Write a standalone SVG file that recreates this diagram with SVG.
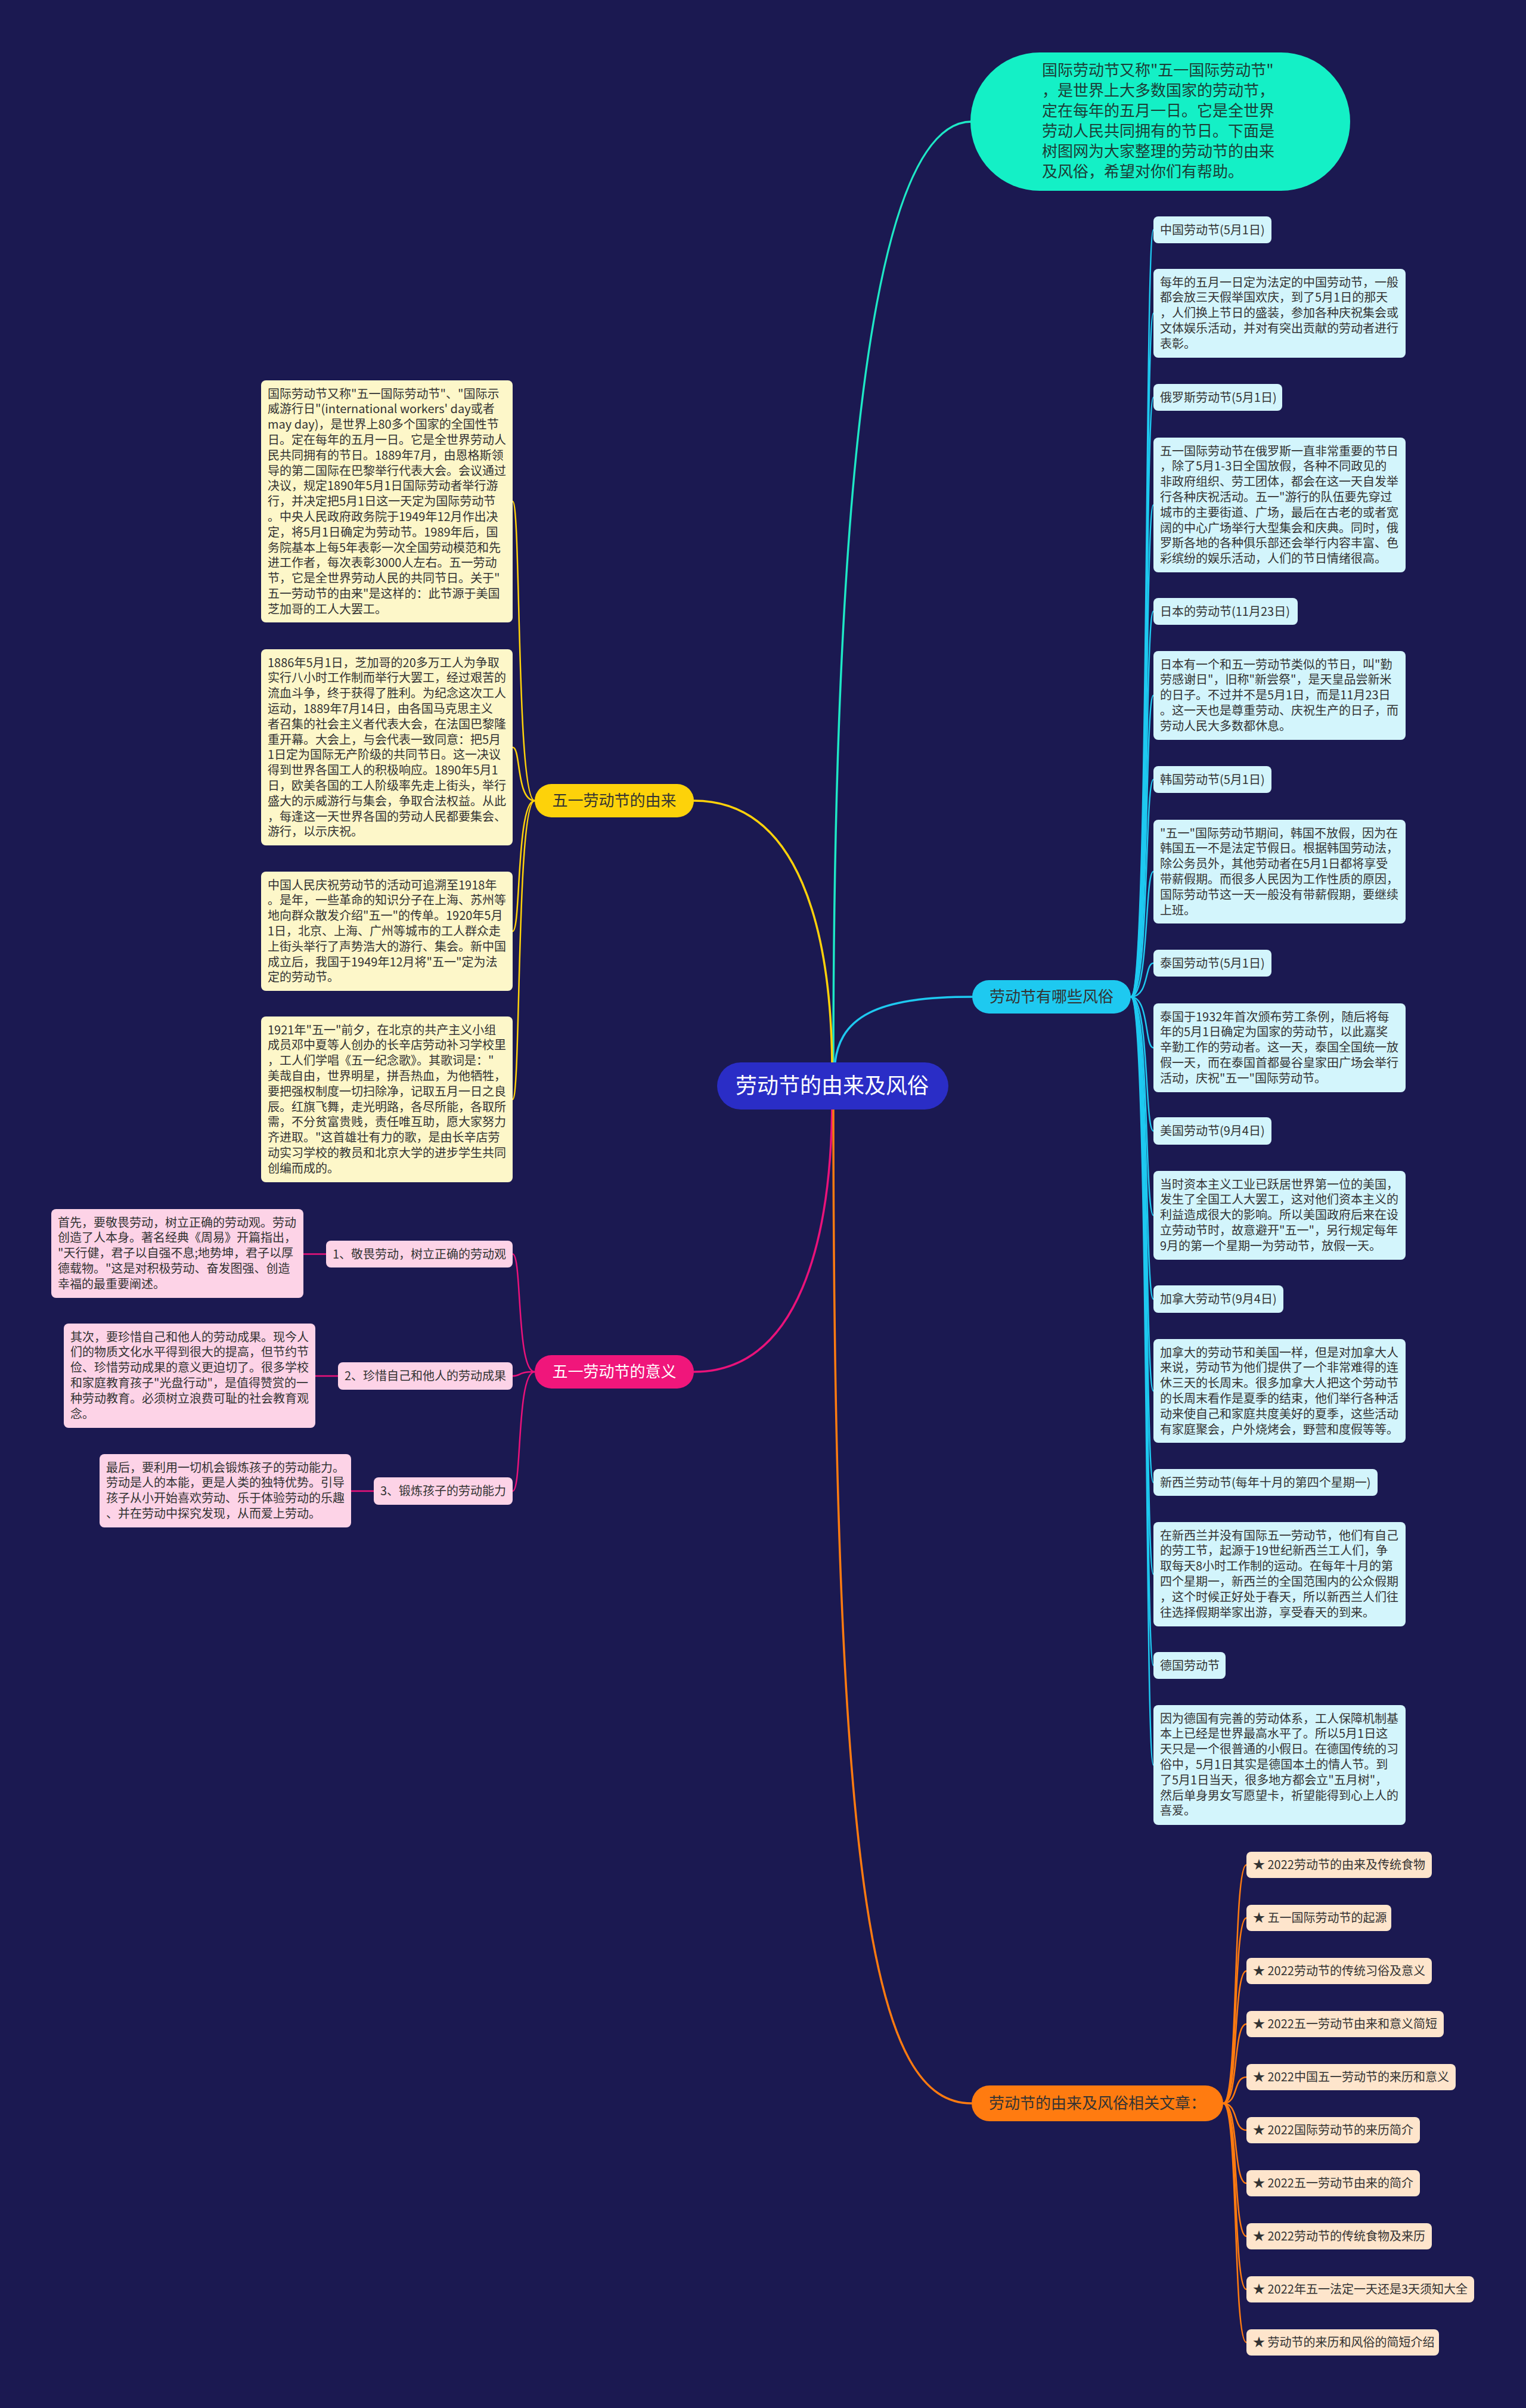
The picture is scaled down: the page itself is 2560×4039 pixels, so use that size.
<svg xmlns="http://www.w3.org/2000/svg" width="2560" height="4039" viewBox="0 0 2560 4039">
<style>
text{font-family:"Noto Sans CJK SC","Noto Sans",sans-serif}
.t20{font-size:20px;fill:#333}
.t26{font-size:26px}
.cy{fill:#d3f5fc}
.ye{fill:#fdf7c9}
.pk{fill:#fdd3e7}
.or{fill:#fee5cc}
.ln{fill:none;stroke-linecap:round}
.lc{stroke:#1ec9f0;stroke-width:2.5}
.ly{stroke:#ffd20a;stroke-width:2.5}
.lm{stroke:#ea127a;stroke-width:2.5}
.lo{stroke:#ff7b10;stroke-width:2.5}
</style>
<rect x="0" y="0" width="2560" height="4039" fill="#1b1951"/>

<g id="connectors">
<path class="ln" d="M1398,1790 C1398,700 1480,204 1630,204" stroke="#1ee8c6" stroke-width="3.5"/>
<path class="ln" d="M1396,1800 C1396,1560 1340,1343 1164,1343" stroke="#ffd20a" stroke-width="3.5"/>
<path class="ln" d="M1396,1840 C1396,2080 1340,2301 1164,2301" stroke="#ea127a" stroke-width="3.5"/>
<path class="ln" d="M1400,1800 C1400,1700 1480,1672 1631,1672" stroke="#1ec9f0" stroke-width="3.5"/>
<path class="ln" d="M1398,1840 C1398,3200 1470,3528 1630,3528" stroke="#ff7b10" stroke-width="3.5"/>

<g class="ln lc">
<path d="M1897,1672 C1928,1672 1920,385.5 1935,385.5"/>
<path d="M1897,1672 C1928,1672 1920,525.5 1935,525.5"/>
<path d="M1897,1672 C1928,1672 1920,666.5 1935,666.5"/>
<path d="M1897,1672 C1928,1672 1920,847 1935,847"/>
<path d="M1897,1672 C1928,1672 1920,1025.5 1935,1025.5"/>
<path d="M1897,1672 C1928,1672 1920,1166.5 1935,1166.5"/>
<path d="M1897,1672 C1928,1672 1920,1307.5 1935,1307.5"/>
<path d="M1897,1672 C1928,1672 1920,1462 1935,1462"/>
<path d="M1897,1672 C1928,1672 1920,1615.5 1935,1615.5"/>
<path d="M1897,1672 C1928,1672 1920,1757.5 1935,1757.5"/>
<path d="M1897,1672 C1928,1672 1920,1897 1935,1897"/>
<path d="M1897,1672 C1928,1672 1920,2038.5 1935,2038.5"/>
<path d="M1897,1672 C1928,1672 1920,2179 1935,2179"/>
<path d="M1897,1672 C1928,1672 1920,2333 1935,2333"/>
<path d="M1897,1672 C1928,1672 1920,2486.5 1935,2486.5"/>
<path d="M1897,1672 C1928,1672 1920,2640.5 1935,2640.5"/>
<path d="M1897,1672 C1928,1672 1920,2793.5 1935,2793.5"/>
<path d="M1897,1672 C1928,1672 1920,2960.5 1935,2960.5"/>
</g>
<g class="ln ly">
<path d="M897,1343 C866,1343 874,841 860,841"/>
<path d="M897,1343 C866,1343 874,1253.5 860,1253.5"/>
<path d="M897,1343 C866,1343 874,1562 860,1562"/>
<path d="M897,1343 C866,1343 874,1844 860,1844"/>
</g>
<g class="ln lm">
<path d="M897,2301 C866,2301 876,2103.5 860,2103.5"/>
<path d="M897,2301 C866,2301 876,2308 860,2308"/>
<path d="M897,2301 C866,2301 876,2501 860,2501"/>
<path d="M547,2103.5 L509,2103.5"/>
<path d="M567,2308 L529,2308"/>
<path d="M627,2501 L589,2501"/>
</g>
<g class="ln lo">
<path d="M2052,3528 C2078,3528 2068,3128 2091,3128"/>
<path d="M2052,3528 C2078,3528 2068,3217 2091,3217"/>
<path d="M2052,3528 C2078,3528 2068,3306 2091,3306"/>
<path d="M2052,3528 C2078,3528 2068,3395 2091,3395"/>
<path d="M2052,3528 C2078,3528 2068,3484 2091,3484"/>
<path d="M2052,3528 C2078,3528 2068,3573 2091,3573"/>
<path d="M2052,3528 C2078,3528 2068,3662 2091,3662"/>
<path d="M2052,3528 C2078,3528 2068,3751 2091,3751"/>
<path d="M2052,3528 C2078,3528 2068,3840 2091,3840"/>
<path d="M2052,3528 C2078,3528 2068,3929 2091,3929"/>
</g>
</g>

<g id="root">
<rect x="1203" y="1782" width="388" height="79" rx="39.5" fill="#2a2dc6"/>
<text x="1396" y="1834" font-size="36" fill="#fff" text-anchor="middle">劳动节的由来及风俗</text>
</g>

<g id="intro">
<rect x="1628" y="88" width="637" height="232" rx="116" fill="#14f0c6"/>
<text class="t26" fill="#1c3d36">
<tspan x="1748" y="127">国际劳动节又称"五一国际劳动节"</tspan>
<tspan x="1748" y="161">，是世界上大多数国家的劳动节，</tspan>
<tspan x="1748" y="195">定在每年的五月一日。它是全世界</tspan>
<tspan x="1748" y="229">劳动人民共同拥有的节日。下面是</tspan>
<tspan x="1748" y="263">树图网为大家整理的劳动节的由来</tspan>
<tspan x="1748" y="297">及风俗，希望对你们有帮助。</tspan>
</text>
</g>

<g id="branch-origin">
<rect x="897" y="1315" width="267" height="56" rx="28" fill="#fdd20a"/>
<text class="t26" x="1030.5" y="1352" fill="#333" text-anchor="middle">五一劳动节的由来</text>
</g>
<g id="branch-meaning">
<rect x="897" y="2273" width="267" height="56" rx="28" fill="#f0167b"/>
<text class="t26" x="1030.5" y="2310" fill="#fff" text-anchor="middle">五一劳动节的意义</text>
</g>
<g id="branch-customs">
<rect x="1631" y="1644" width="266" height="56" rx="28" fill="#1ec9f0"/>
<text class="t26" x="1764" y="1681" fill="#333" text-anchor="middle">劳动节有哪些风俗</text>
</g>
<g id="branch-articles">
<rect x="1630" y="3498" width="422" height="60" rx="30" fill="#ff7b10"/>
<text class="t26" x="1841" y="3537" fill="#333" text-anchor="middle">劳动节的由来及风俗相关文章：</text>
</g>

<g id="c1"><rect class="cy" x="1935" y="363" width="198" height="45" rx="8"/><text class="t20" x="1946" y="392.5">中国劳动节(5月1日)</text></g>
<g id="c2"><rect class="cy" x="1935" y="451" width="423" height="149" rx="8"/>
<text class="t20"><tspan x="1946" y="480.5">每年的五月一日定为法定的中国劳动节，一般</tspan><tspan x="1946" dy="25.8">都会放三天假举国欢庆，到了5月1日的那天</tspan><tspan x="1946" dy="25.8">，人们换上节日的盛装，参加各种庆祝集会或</tspan><tspan x="1946" dy="25.8">文体娱乐活动，并对有突出贡献的劳动者进行</tspan><tspan x="1946" dy="25.8">表彰。</tspan></text></g>
<g id="c3"><rect class="cy" x="1935" y="644" width="216" height="45" rx="8"/><text class="t20" x="1946" y="673.5">俄罗斯劳动节(5月1日)</text></g>
<g id="c4"><rect class="cy" x="1935" y="734" width="423" height="226" rx="8"/>
<text class="t20"><tspan x="1946" y="763.5">五一国际劳动节在俄罗斯一直非常重要的节日</tspan><tspan x="1946" dy="25.8">，除了5月1-3日全国放假，各种不同政见的</tspan><tspan x="1946" dy="25.8">非政府组织、劳工团体，都会在这一天自发举</tspan><tspan x="1946" dy="25.8">行各种庆祝活动。五一"游行的队伍要先穿过</tspan><tspan x="1946" dy="25.8">城市的主要街道、广场，最后在古老的或者宽</tspan><tspan x="1946" dy="25.8">阔的中心广场举行大型集会和庆典。同时，俄</tspan><tspan x="1946" dy="25.8">罗斯各地的各种俱乐部还会举行内容丰富、色</tspan><tspan x="1946" dy="25.8">彩缤纷的娱乐活动，人们的节日情绪很高。</tspan></text></g>
<g id="c5"><rect class="cy" x="1935" y="1003" width="242" height="45" rx="8"/><text class="t20" x="1946" y="1032.5">日本的劳动节(11月23日)</text></g>
<g id="c6"><rect class="cy" x="1935" y="1092" width="423" height="149" rx="8"/>
<text class="t20"><tspan x="1946" y="1121.5">日本有一个和五一劳动节类似的节日，叫"勤</tspan><tspan x="1946" dy="25.8">劳感谢日"，旧称"新尝祭"，是天皇品尝新米</tspan><tspan x="1946" dy="25.8">的日子。不过并不是5月1日，而是11月23日</tspan><tspan x="1946" dy="25.8">。这一天也是尊重劳动、庆祝生产的日子，而</tspan><tspan x="1946" dy="25.8">劳动人民大多数都休息。</tspan></text></g>
<g id="c7"><rect class="cy" x="1935" y="1285" width="198" height="45" rx="8"/><text class="t20" x="1946" y="1314.5">韩国劳动节(5月1日)</text></g>
<g id="c8"><rect class="cy" x="1935" y="1375" width="423" height="174" rx="8"/>
<text class="t20"><tspan x="1946" y="1404.5">"五一"国际劳动节期间，韩国不放假，因为在</tspan><tspan x="1946" dy="25.8">韩国五一不是法定节假日。根据韩国劳动法，</tspan><tspan x="1946" dy="25.8">除公务员外，其他劳动者在5月1日都将享受</tspan><tspan x="1946" dy="25.8">带薪假期。而很多人民因为工作性质的原因，</tspan><tspan x="1946" dy="25.8">国际劳动节这一天一般没有带薪假期，要继续</tspan><tspan x="1946" dy="25.8">上班。</tspan></text></g>
<g id="c9"><rect class="cy" x="1935" y="1593" width="198" height="45" rx="8"/><text class="t20" x="1946" y="1622.5">泰国劳动节(5月1日)</text></g>
<g id="c10"><rect class="cy" x="1935" y="1683" width="423" height="149" rx="8"/>
<text class="t20"><tspan x="1946" y="1712.5">泰国于1932年首次颁布劳工条例，随后将每</tspan><tspan x="1946" dy="25.8">年的5月1日确定为国家的劳动节，以此嘉奖</tspan><tspan x="1946" dy="25.8">辛勤工作的劳动者。这一天，泰国全国统一放</tspan><tspan x="1946" dy="25.8">假一天，而在泰国首都曼谷皇家田广场会举行</tspan><tspan x="1946" dy="25.8">活动，庆祝"五一"国际劳动节。</tspan></text></g>
<g id="c11"><rect class="cy" x="1935" y="1874" width="198" height="46" rx="8"/><text class="t20" x="1946" y="1904">美国劳动节(9月4日)</text></g>
<g id="c12"><rect class="cy" x="1935" y="1964" width="423" height="149" rx="8"/>
<text class="t20"><tspan x="1946" y="1993.5">当时资本主义工业已跃居世界第一位的美国，</tspan><tspan x="1946" dy="25.8">发生了全国工人大罢工，这对他们资本主义的</tspan><tspan x="1946" dy="25.8">利益造成很大的影响。所以美国政府后来在设</tspan><tspan x="1946" dy="25.8">立劳动节时，故意避开"五一"，另行规定每年</tspan><tspan x="1946" dy="25.8">9月的第一个星期一为劳动节，放假一天。</tspan></text></g>
<g id="c13"><rect class="cy" x="1935" y="2156" width="218" height="46" rx="8"/><text class="t20" x="1946" y="2186">加拿大劳动节(9月4日)</text></g>
<g id="c14"><rect class="cy" x="1935" y="2246" width="423" height="174" rx="8"/>
<text class="t20"><tspan x="1946" y="2275.5">加拿大的劳动节和美国一样，但是对加拿大人</tspan><tspan x="1946" dy="25.8">来说，劳动节为他们提供了一个非常难得的连</tspan><tspan x="1946" dy="25.8">休三天的长周末。很多加拿大人把这个劳动节</tspan><tspan x="1946" dy="25.8">的长周末看作是夏季的结束，他们举行各种活</tspan><tspan x="1946" dy="25.8">动来使自己和家庭共度美好的夏季，这些活动</tspan><tspan x="1946" dy="25.8">有家庭聚会，户外烧烤会，野营和度假等等。</tspan></text></g>
<g id="c15"><rect class="cy" x="1935" y="2464" width="376" height="45" rx="8"/><text class="t20" x="1946" y="2493.5">新西兰劳动节(每年十月的第四个星期一)</text></g>
<g id="c16"><rect class="cy" x="1935" y="2553" width="423" height="175" rx="8"/>
<text class="t20"><tspan x="1946" y="2582.5">在新西兰并没有国际五一劳动节，他们有自己</tspan><tspan x="1946" dy="25.8">的劳工节，起源于19世纪新西兰工人们，争</tspan><tspan x="1946" dy="25.8">取每天8小时工作制的运动。在每年十月的第</tspan><tspan x="1946" dy="25.8">四个星期一，新西兰的全国范围内的公众假期</tspan><tspan x="1946" dy="25.8">，这个时候正好处于春天，所以新西兰人们往</tspan><tspan x="1946" dy="25.8">往选择假期举家出游，享受春天的到来。</tspan></text></g>
<g id="c17"><rect class="cy" x="1935" y="2771" width="121" height="45" rx="8"/><text class="t20" x="1946" y="2800.5">德国劳动节</text></g>
<g id="c18"><rect class="cy" x="1935" y="2860" width="423" height="201" rx="8"/>
<text class="t20"><tspan x="1946" y="2889.5">因为德国有完善的劳动体系，工人保障机制基</tspan><tspan x="1946" dy="25.8">本上已经是世界最高水平了。所以5月1日这</tspan><tspan x="1946" dy="25.8">天只是一个很普通的小假日。在德国传统的习</tspan><tspan x="1946" dy="25.8">俗中，5月1日其实是德国本土的情人节。到</tspan><tspan x="1946" dy="25.8">了5月1日当天，很多地方都会立"五月树"，</tspan><tspan x="1946" dy="25.8">然后单身男女写愿望卡，祈望能得到心上人的</tspan><tspan x="1946" dy="25.8">喜爱。</tspan></text></g>

<g id="l1"><rect class="ye" x="438" y="638" width="422" height="406" rx="8"/>
<text class="t20"><tspan x="449" y="667.5">国际劳动节又称"五一国际劳动节"、"国际示</tspan><tspan x="449" dy="25.8">威游行日"(international workers' day或者</tspan><tspan x="449" dy="25.8">may day)，是世界上80多个国家的全国性节</tspan><tspan x="449" dy="25.8">日。定在每年的五月一日。它是全世界劳动人</tspan><tspan x="449" dy="25.8">民共同拥有的节日。1889年7月，由恩格斯领</tspan><tspan x="449" dy="25.8">导的第二国际在巴黎举行代表大会。会议通过</tspan><tspan x="449" dy="25.8">决议，规定1890年5月1日国际劳动者举行游</tspan><tspan x="449" dy="25.8">行，并决定把5月1日这一天定为国际劳动节</tspan><tspan x="449" dy="25.8">。中央人民政府政务院于1949年12月作出决</tspan><tspan x="449" dy="25.8">定，将5月1日确定为劳动节。1989年后，国</tspan><tspan x="449" dy="25.8">务院基本上每5年表彰一次全国劳动模范和先</tspan><tspan x="449" dy="25.8">进工作者，每次表彰3000人左右。五一劳动</tspan><tspan x="449" dy="25.8">节，它是全世界劳动人民的共同节日。关于"</tspan><tspan x="449" dy="25.8">五一劳动节的由来"是这样的：此节源于美国</tspan><tspan x="449" dy="25.8">芝加哥的工人大罢工。</tspan></text></g>
<g id="l2"><rect class="ye" x="438" y="1089" width="422" height="329" rx="8"/>
<text class="t20"><tspan x="449" y="1118.5">1886年5月1日，芝加哥的20多万工人为争取</tspan><tspan x="449" dy="25.8">实行八小时工作制而举行大罢工，经过艰苦的</tspan><tspan x="449" dy="25.8">流血斗争，终于获得了胜利。为纪念这次工人</tspan><tspan x="449" dy="25.8">运动，1889年7月14日，由各国马克思主义</tspan><tspan x="449" dy="25.8">者召集的社会主义者代表大会，在法国巴黎隆</tspan><tspan x="449" dy="25.8">重开幕。大会上，与会代表一致同意：把5月</tspan><tspan x="449" dy="25.8">1日定为国际无产阶级的共同节日。这一决议</tspan><tspan x="449" dy="25.8">得到世界各国工人的积极响应。1890年5月1</tspan><tspan x="449" dy="25.8">日，欧美各国的工人阶级率先走上街头，举行</tspan><tspan x="449" dy="25.8">盛大的示威游行与集会，争取合法权益。从此</tspan><tspan x="449" dy="25.8">，每逢这一天世界各国的劳动人民都要集会、</tspan><tspan x="449" dy="25.8">游行，以示庆祝。</tspan></text></g>
<g id="l3"><rect class="ye" x="438" y="1462" width="422" height="200" rx="8"/>
<text class="t20"><tspan x="449" y="1491.5">中国人民庆祝劳动节的活动可追溯至1918年</tspan><tspan x="449" dy="25.8">。是年，一些革命的知识分子在上海、苏州等</tspan><tspan x="449" dy="25.8">地向群众散发介绍"五一"的传单。1920年5月</tspan><tspan x="449" dy="25.8">1日，北京、上海、广州等城市的工人群众走</tspan><tspan x="449" dy="25.8">上街头举行了声势浩大的游行、集会。新中国</tspan><tspan x="449" dy="25.8">成立后，我国于1949年12月将"五一"定为法</tspan><tspan x="449" dy="25.8">定的劳动节。</tspan></text></g>
<g id="l4"><rect class="ye" x="438" y="1705" width="422" height="278" rx="8"/>
<text class="t20"><tspan x="449" y="1734.5">1921年"五一"前夕，在北京的共产主义小组</tspan><tspan x="449" dy="25.8">成员邓中夏等人创办的长辛店劳动补习学校里</tspan><tspan x="449" dy="25.8">，工人们学唱《五一纪念歌》。其歌词是："</tspan><tspan x="449" dy="25.8">美哉自由，世界明星，拼吾热血，为他牺牲，</tspan><tspan x="449" dy="25.8">要把强权制度一切扫除净，记取五月一日之良</tspan><tspan x="449" dy="25.8">辰。红旗飞舞，走光明路，各尽所能，各取所</tspan><tspan x="449" dy="25.8">需，不分贫富贵贱，责任唯互助，愿大家努力</tspan><tspan x="449" dy="25.8">齐进取。"这首雄壮有力的歌，是由长辛店劳</tspan><tspan x="449" dy="25.8">动实习学校的教员和北京大学的进步学生共同</tspan><tspan x="449" dy="25.8">创编而成的。</tspan></text></g>

<g id="m1"><rect class="pk" x="547" y="2081" width="313" height="45" rx="8"/><text class="t20" x="558" y="2110.5">1、敬畏劳动，树立正确的劳动观</text></g>
<g id="m1t"><rect class="pk" x="86" y="2028" width="423" height="149" rx="8"/>
<text class="t20"><tspan x="97" y="2057.5">首先，要敬畏劳动，树立正确的劳动观。劳动</tspan><tspan x="97" dy="25.8">创造了人本身。著名经典《周易》开篇指出，</tspan><tspan x="97" dy="25.8">"天行健，君子以自强不息;地势坤，君子以厚</tspan><tspan x="97" dy="25.8">德载物。"这是对积极劳动、奋发图强、创造</tspan><tspan x="97" dy="25.8">幸福的最重要阐述。</tspan></text></g>
<g id="m2"><rect class="pk" x="567" y="2285" width="293" height="46" rx="8"/><text class="t20" x="578" y="2315">2、珍惜自己和他人的劳动成果</text></g>
<g id="m2t"><rect class="pk" x="107" y="2220" width="422" height="175" rx="8"/>
<text class="t20"><tspan x="118" y="2249.5">其次，要珍惜自己和他人的劳动成果。现今人</tspan><tspan x="118" dy="25.8">们的物质文化水平得到很大的提高，但节约节</tspan><tspan x="118" dy="25.8">俭、珍惜劳动成果的意义更迫切了。很多学校</tspan><tspan x="118" dy="25.8">和家庭教育孩子"光盘行动"，是值得赞赏的一</tspan><tspan x="118" dy="25.8">种劳动教育。必须树立浪费可耻的社会教育观</tspan><tspan x="118" dy="25.8">念。</tspan></text></g>
<g id="m3"><rect class="pk" x="627" y="2478" width="233" height="46" rx="8"/><text class="t20" x="638" y="2508">3、锻炼孩子的劳动能力</text></g>
<g id="m3t"><rect class="pk" x="167" y="2439" width="422" height="123" rx="8"/>
<text class="t20"><tspan x="178" y="2468.5">最后，要利用一切机会锻炼孩子的劳动能力。</tspan><tspan x="178" dy="25.8">劳动是人的本能，更是人类的独特优势。引导</tspan><tspan x="178" dy="25.8">孩子从小开始喜欢劳动、乐于体验劳动的乐趣</tspan><tspan x="178" dy="25.8">、并在劳动中探究发现，从而爱上劳动。</tspan></text></g>

<g id="a1"><rect class="or" x="2091" y="3106" width="311" height="44" rx="8"/><text class="t20" x="2102" y="3135">★ 2022劳动节的由来及传统食物</text></g>
<g id="a2"><rect class="or" x="2091" y="3195" width="243" height="44" rx="8"/><text class="t20" x="2102" y="3224">★ 五一国际劳动节的起源</text></g>
<g id="a3"><rect class="or" x="2091" y="3284" width="311" height="44" rx="8"/><text class="t20" x="2102" y="3313">★ 2022劳动节的传统习俗及意义</text></g>
<g id="a4"><rect class="or" x="2091" y="3373" width="331" height="44" rx="8"/><text class="t20" x="2102" y="3402">★ 2022五一劳动节由来和意义简短</text></g>
<g id="a5"><rect class="or" x="2091" y="3462" width="351" height="44" rx="8"/><text class="t20" x="2102" y="3491">★ 2022中国五一劳动节的来历和意义</text></g>
<g id="a6"><rect class="or" x="2091" y="3551" width="291" height="44" rx="8"/><text class="t20" x="2102" y="3580">★ 2022国际劳动节的来历简介</text></g>
<g id="a7"><rect class="or" x="2091" y="3640" width="291" height="44" rx="8"/><text class="t20" x="2102" y="3669">★ 2022五一劳动节由来的简介</text></g>
<g id="a8"><rect class="or" x="2091" y="3729" width="311" height="44" rx="8"/><text class="t20" x="2102" y="3758">★ 2022劳动节的传统食物及来历</text></g>
<g id="a9"><rect class="or" x="2091" y="3818" width="382" height="44" rx="8"/><text class="t20" x="2102" y="3847">★ 2022年五一法定一天还是3天须知大全</text></g>
<g id="a10"><rect class="or" x="2091" y="3907" width="323" height="44" rx="8"/><text class="t20" x="2102" y="3936">★ 劳动节的来历和风俗的简短介绍</text></g>
</svg>
